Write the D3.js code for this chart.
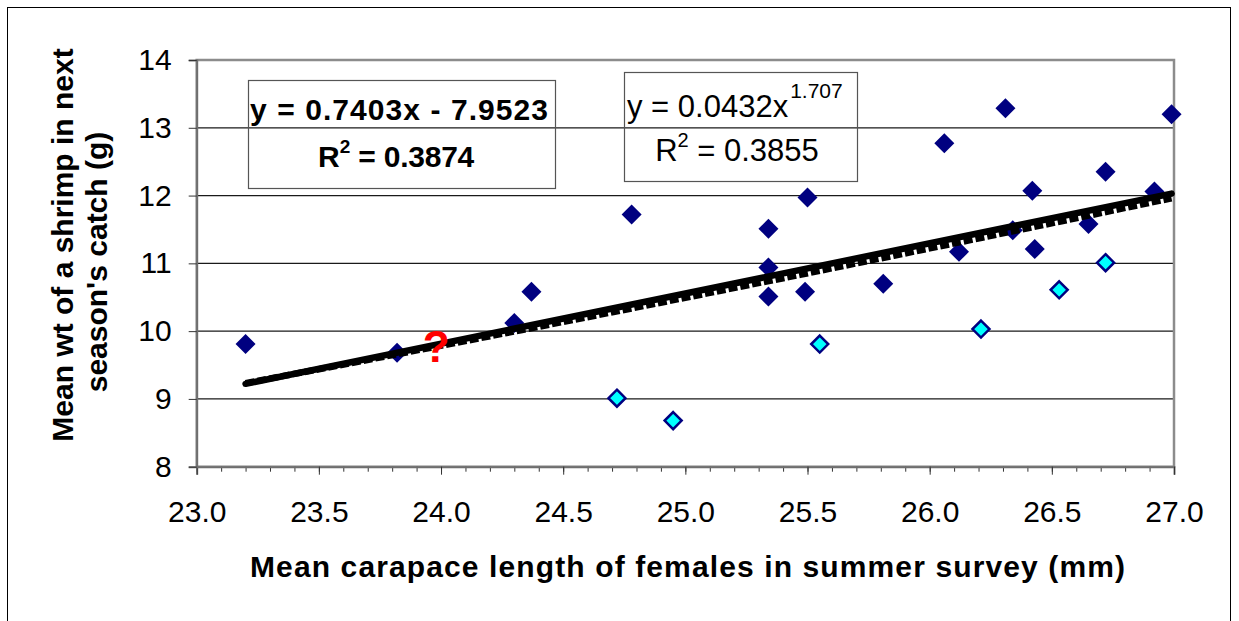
<!DOCTYPE html>
<html><head><meta charset="utf-8">
<script src="https://cdn.jsdelivr.net/npm/d3@7"></script>
<style>body{margin:0;background:#fff}svg{display:block}text{font-family:Arial,'Liberation Sans',sans-serif}</style>
</head><body><svg id="c" width="1239" height="621"></svg>
<script>
// Data
const darkX = [23.20, 23.82, 24.30, 24.37, 24.78, 25.34, 25.34, 25.34, 25.50, 25.49, 25.81, 26.06, 26.12, 26.31, 26.34, 26.42, 26.43, 26.65, 26.72, 26.92, 26.99];
const darkY = [9.81, 9.68, 10.12, 10.58, 11.72, 11.51, 10.94, 10.51, 11.97, 10.58, 10.70, 12.77, 11.17, 13.29, 11.49, 12.07, 11.21, 11.58, 12.35, 12.06, 13.20];
const cyanX = [24.72, 24.95, 25.55, 26.21, 26.53, 26.72];
const cyanY = [9.01, 8.68, 9.81, 10.03, 10.61, 11.01];
const linearCoef = [0.7403, -7.9523];   // slope, intercept
const powerCoef = [0.0432, 1.707];      // a, b
const xMajorTicks = [23.0, 23.5, 24.0, 24.5, 25.0, 25.5, 26.0, 26.5, 27.0];
const yTicks = [8, 9, 10, 11, 12, 13, 14];
const xTitle = "Mean carapace length of females in summer survey (mm)";
const yTitle = ["Mean wt of a shrimp in next", "season's catch (g)"];

const svg = d3.select("#c");
const x = d3.scaleLinear().domain([23, 27]).range([196.7, 1174]);
const y = d3.scaleLinear().domain([8, 14]).range([466.7, 60]);

// outer chart border
svg.append("rect").attr("x", 7.5).attr("y", 7.5).attr("width", 1223).attr("height", 640)
  .attr("fill", "none").attr("stroke", "#000").attr("stroke-width", 1);

// gridlines
svg.append("g").selectAll("line").data(yTicks.filter(d => d > 8 && d < 14)).join("line")
  .attr("x1", x(23)).attr("x2", x(27)).attr("y1", d => y(d)).attr("y2", d => y(d))
  .attr("stroke", "#1a1a1a").attr("stroke-width", 1.2);

// plot border
svg.append("rect").attr("x", x(23)).attr("y", y(14)).attr("width", x(27) - x(23)).attr("height", y(8) - y(14))
  .attr("fill", "none").attr("stroke", "#8c8c8c").attr("stroke-width", 2.5);

// x axis minor ticks
const minor = d3.range(0, 41).map(i => 23 + i * 0.1);
svg.append("g").attr("transform", `translate(0,${y(8)})`)
  .call(d3.axisBottom(x).tickValues(minor).tickSize(5).tickFormat(""))
  .call(g => g.select(".domain").remove())
  .call(g => g.selectAll(".tick line").attr("stroke", "#333"));
// x axis major
svg.append("g").attr("transform", `translate(0,${y(8)})`)
  .call(d3.axisBottom(x).tickValues(xMajorTicks).tickSize(8).tickPadding(26).tickFormat(d3.format(".1f")))
  .call(g => g.select(".domain").attr("stroke", "#6e6e6e").attr("stroke-width", 2))
  .call(g => g.selectAll(".tick line").attr("stroke", "#333"))
  .call(g => g.selectAll("text").attr("font-size", 30).attr("fill", "#000").attr("font-family", "Arial,'Liberation Sans',sans-serif"));

// y axis
svg.append("g").attr("transform", `translate(${x(23)},0)`)
  .call(d3.axisLeft(y).tickValues(yTicks).tickSize(8).tickPadding(17).tickFormat(d3.format("d")))
  .call(g => g.select(".domain").attr("stroke", "#6e6e6e").attr("stroke-width", 2))
  .call(g => g.selectAll(".tick line").attr("stroke", "#333"))
  .call(g => g.selectAll("text").attr("font-size", 30).attr("fill", "#000").attr("font-family", "Arial,'Liberation Sans',sans-serif"));

// points
const diamond = (s) => `M0,${-s}L${s},0L0,${s}L${-s},0Z`;
svg.append("g").selectAll("path").data(darkX.map((v, i) => [v, darkY[i]])).join("path")
  .attr("d", diamond(10)).attr("transform", d => `translate(${x(d[0])},${y(d[1])})`)
  .attr("fill", "#000080");
svg.append("g").selectAll("path").data(cyanX.map((v, i) => [v, cyanY[i]])).join("path")
  .attr("d", diamond(8.5)).attr("transform", d => `translate(${x(d[0])},${y(d[1])})`)
  .attr("fill", "#00ffff").attr("stroke", "#000080").attr("stroke-width", 2.5);

// trend lines
const xr = [d3.min(darkX.concat(cyanX)), d3.max(darkX.concat(cyanX))];
const lin = xr.map(v => [v, linearCoef[0] * v + linearCoef[1]]);
const pw = d3.range(0, 11).map(i => xr[0] + (xr[1] - xr[0]) * i / 10).map(v => [v, powerCoef[0] * Math.pow(v, powerCoef[1])]);
const line = d3.line().x(d => x(d[0])).y(d => y(d[1]));
svg.append("path").attr("d", line(pw)).attr("fill", "none").attr("stroke", "#000").attr("stroke-width", 6.5)
  .attr("stroke-dasharray", "9,3").attr("transform", "translate(0,1.5)");
svg.append("path").attr("d", line(lin)).attr("fill", "none").attr("stroke", "#000").attr("stroke-width", 6.5)
  .attr("stroke-linecap", "round");

// question mark
svg.append("text").attr("x", x(23.98)).attr("y", 362).attr("text-anchor", "middle")
  .attr("font-size", 44).attr("font-weight", "bold").attr("fill", "#ff0000").text("?");

// equation box 1 (linear)
svg.append("rect").attr("x", 248.5).attr("y", 80.5).attr("width", 307).attr("height", 108)
  .attr("fill", "none").attr("stroke", "#555").attr("stroke-width", 1.2);
svg.append("text").attr("x", 250).attr("y", 120).attr("font-size", 30)
  .attr("textLength", 298).attr("lengthAdjust", "spacing")
  .attr("font-weight", "bold").text(`y = ${linearCoef[0]}x - ${Math.abs(linearCoef[1])}`);
const r1 = svg.append("text").attr("x", 318).attr("y", 167).attr("font-size", 30).attr("font-weight", "bold");
r1.append("tspan").text("R");
r1.append("tspan").attr("dy", -14).attr("font-size", 19).text("2");
r1.append("tspan").attr("dy", 14).attr("textLength", 124).attr("lengthAdjust", "spacing").text(" = 0.3874");

// equation box 2 (power)
svg.append("rect").attr("x", 624.5).attr("y", 72.5).attr("width", 233).attr("height", 109)
  .attr("fill", "none").attr("stroke", "#555").attr("stroke-width", 1.2);
const e2 = svg.append("text").attr("x", 627).attr("y", 117).attr("font-size", 31);
e2.append("tspan").text(`y = ${powerCoef[0]}x`);
e2.append("tspan").attr("dy", -19).attr("font-size", 21).attr("dx", 2).text(`${powerCoef[1]}`);
const r2 = svg.append("text").attr("x", 737).attr("y", 161).attr("text-anchor", "middle").attr("font-size", 31);
r2.append("tspan").text("R");
r2.append("tspan").attr("dy", -14).attr("font-size", 20).text("2");
r2.append("tspan").attr("dy", 14).text(" = 0.3855");

// axis titles
svg.append("text").attr("x", 250).attr("y", 577).attr("font-size", 30)
  .attr("textLength", 875).attr("lengthAdjust", "spacing")
  .attr("font-weight", "bold").text(xTitle);
svg.append("text").attr("transform", "translate(73,245) rotate(-90)").attr("text-anchor", "middle")
  .attr("font-size", 30).attr("font-weight", "bold").text(yTitle[0]);
svg.append("text").attr("transform", "translate(107,262) rotate(-90)").attr("text-anchor", "middle")
  .attr("font-size", 30).attr("font-weight", "bold").text(yTitle[1]);
</script></body></html>
